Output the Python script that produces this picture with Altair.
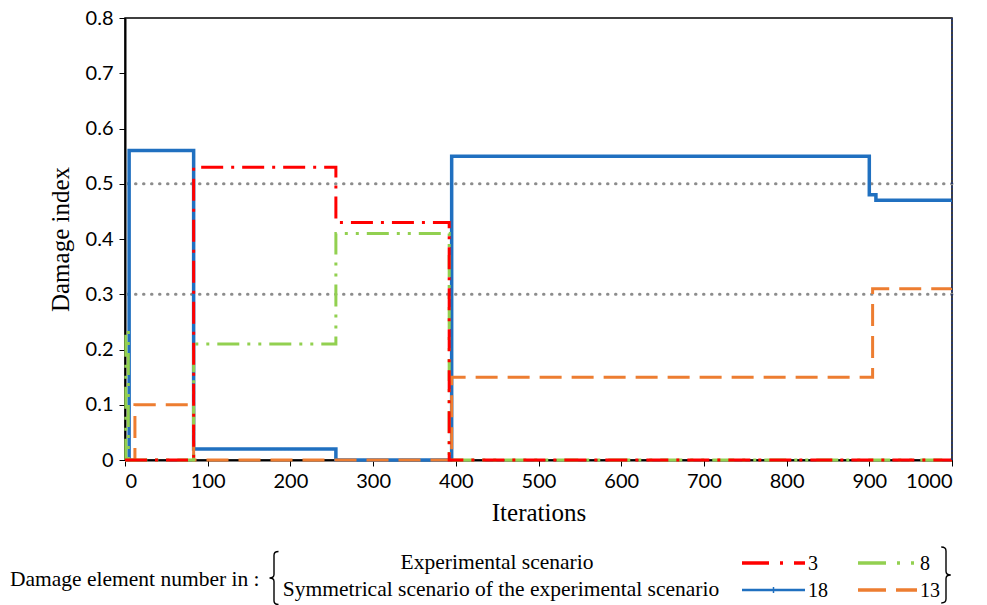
import altair as alt
import pandas as pd

# Damage index per element as a function of iteration (step changes)
series_names = ["3", "8", "18", "13"]
colors = ["#ff0000", "#92d050", "#2070c0", "#ed7d31"]
dashes = [[22, 8, 3, 8], [22, 8, 3, 8, 3, 8], [1, 0], [22, 10]]
key_dashes = [[27, 11, 3, 11], [28, 11, 3, 11, 3, 11], [1, 0], [28, 10]]

elem3_x = [0, 83, 255, 392, 1000]
elem3_y = [0, 0.53, 0.43, 0, 0]

elem8_x = [0, 1, 4, 83, 255, 392, 1000]
elem8_y = [0, 0.235, 0, 0.21, 0.41, 0, 0]

elem18_x = [0, 5, 83, 255, 395, 900, 908, 1000]
elem18_y = [0, 0.56, 0.02, 0, 0.55, 0.48, 0.47, 0.47]

elem13_x = [0, 12, 83, 395, 904, 1000]
elem13_y = [0, 0.10, 0, 0.15, 0.31, 0.31]

ref_levels = [0.3, 0.5]
x_ticks = list(range(0, 1001, 100))
y_ticks = [0, 0.1, 0.2, 0.3, 0.4, 0.5, 0.6, 0.7, 0.8]

caption_left = "Damage element number in :"
caption_rows = ["Experimental scenario",
                "Symmetrical scenario of the experimental scenario"]

frames = []
for name, xs, ys in [("3", elem3_x, elem3_y), ("8", elem8_x, elem8_y),
                     ("18", elem18_x, elem18_y), ("13", elem13_x, elem13_y)]:
    frames.append(pd.DataFrame({"iteration": xs, "damage": ys, "element": name}))
data = pd.concat(frames, ignore_index=True)

W, H = 827, 442
SERIF = "Liberation Serif"

x_enc = alt.X("iteration:Q", scale=alt.Scale(domain=[0, 1000], nice=False),
              axis=alt.Axis(values=x_ticks, title="Iterations", grid=False, format="d",
                            labelFont="Lato", labelFontSize=20, labelColor="black",
                            titleFont=SERIF, titleFontSize=25,
                            titleFontWeight="normal", titleColor="black",
                            titlePadding=9, tickColor="black", tickSize=6,
                            domainColor="black", domainWidth=2, labelPadding=5))
y_enc = alt.Y("damage:Q", scale=alt.Scale(domain=[0, 0.8], nice=False),
              axis=alt.Axis(values=y_ticks, title="Damage index", grid=False,
                            labelExpr="datum.value == 0 ? '0' : format(datum.value, '.1f')",
                            labelFont="Lato", labelFontSize=20, labelColor="black",
                            titleFont=SERIF, titleFontSize=25,
                            titleFontWeight="normal", titleColor="black",
                            titlePadding=12, tickColor="black", tickSize=6,
                            domainColor="black", domainWidth=2, labelPadding=6))

color_enc = alt.Color("element:N", scale=alt.Scale(domain=series_names, range=colors),
                      legend=None)
dash_enc = alt.StrokeDash("element:N", scale=alt.Scale(domain=series_names, range=dashes),
                          legend=None)

refs = alt.Chart(pd.DataFrame({"level": ref_levels})).mark_rule(
    color="#8c8c8c", strokeWidth=3, strokeDash=[0.5, 7.5], strokeCap="round"
).encode(y="level:Q")

right_edge = alt.Chart(pd.DataFrame({"iteration": [1000]})).mark_rule(
    color="#2a3a6a", strokeWidth=2, strokeDash=[2, 2]
).encode(x="iteration:Q")

layers = [refs]
for name in ["18", "13", "8", "3"]:
    layers.append(
        alt.Chart(data).transform_filter(alt.datum.element == name)
        .mark_line(interpolate="step-after", strokeWidth=3.5 if name == "18" else 3)
        .encode(x=x_enc, y=y_enc, color=color_enc, strokeDash=dash_enc,
                detail="element:N")
    )
layers.append(right_edge)

# Key: two rows (experimental / symmetrical), two columns
ROW_Y = [545, 572]
COL_X = [(617, 680), (733, 792)]
key_slots = {"3": (0, 0), "8": (0, 1), "18": (1, 0), "13": (1, 1)}
for i, name in enumerate(series_names):
    r, c = key_slots[name]
    x0, x1 = COL_X[c]
    layers.append(
        alt.Chart(pd.DataFrame({"element": [name]})).mark_rule(
            color=colors[i], strokeDash=key_dashes[i],
            strokeWidth=2.5 if name == "18" else 3.5
        ).encode(x=alt.value(x0), x2=alt.value(x1), y=alt.value(ROW_Y[r]))
    )
    if name == "18":
        # small marker in the middle of the solid key line
        layers.append(
            alt.Chart(pd.DataFrame({"element": [name]})).mark_rule(
                color=colors[i], strokeWidth=1.5
            ).encode(x=alt.value((x0 + x1) / 2), y=alt.value(ROW_Y[r] - 3),
                     y2=alt.value(ROW_Y[r] + 3))
        )
    layers.append(
        alt.Chart(pd.DataFrame({"element": [name]})).mark_text(
            font=SERIF, fontSize=20, align="left", baseline="middle", color="black"
        ).encode(x=alt.value(x1 + 3), y=alt.value(ROW_Y[r] + 1), text="element:N")
    )

# Caption in front of the key, with braces grouping the two scenario rows
cap_left = alt.Chart(pd.DataFrame({"txt": [caption_left]})).mark_text(
    font=SERIF, fontSize=21.5, align="left", baseline="middle", color="black"
).encode(x=alt.value(-115), y=alt.value(562), text="txt:N")
cap_top = alt.Chart(pd.DataFrame({"txt": [caption_rows[0]]})).mark_text(
    font=SERIF, fontSize=21.5, align="center", baseline="middle", color="black"
).encode(x=alt.value(372), y=alt.value(ROW_Y[0]), text="txt:N")
cap_bottom = alt.Chart(pd.DataFrame({"txt": [caption_rows[1]]})).mark_text(
    font=SERIF, fontSize=21.5, align="center", baseline="middle", color="black"
).encode(x=alt.value(376), y=alt.value(ROW_Y[1]), text="txt:N")

OPEN_BRACE = ("M0.17,-1 Q0,-1 0,-0.86 L0,-0.13 Q0,0 -0.17,0 "
              "Q0,0 0,0.13 L0,0.86 Q0,1 0.17,1")
CLOSE_BRACE = ("M-0.17,-1 Q0,-1 0,-0.86 L0,-0.13 Q0,0 0.17,0 "
               "Q0,0 0,0.13 L0,0.86 Q0,1 -0.17,1")
brace_src = pd.DataFrame({"k": [0]})
brace_open = alt.Chart(brace_src).mark_point(
    shape=OPEN_BRACE, filled=False, stroke="black", strokeWidth=1.4, size=2809, opacity=1
).encode(x=alt.value(149), y=alt.value(560))
brace_close = alt.Chart(brace_src).mark_point(
    shape=CLOSE_BRACE, filled=False, stroke="black", strokeWidth=1.4, size=3136, opacity=1
).encode(x=alt.value(821), y=alt.value(557))

layers += [cap_left, cap_top, cap_bottom, brace_open, brace_close]

chart = alt.layer(*layers).properties(
    width=W, height=H,
    autosize=alt.AutoSizeParams(type="none"),
    padding={"left": 125, "top": 18, "right": 35, "bottom": 145},
    background="white",
).configure_view(stroke="black", strokeWidth=1.5)

chart.save("out.html", embed_options={"renderer": "svg", "actions": False})
